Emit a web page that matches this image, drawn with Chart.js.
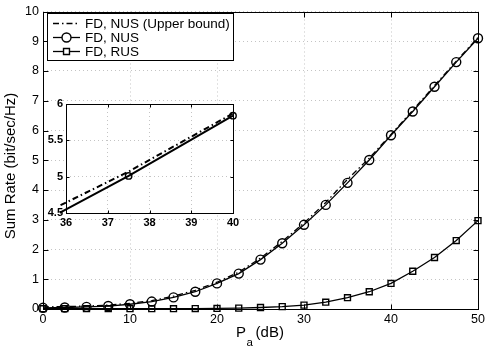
<!DOCTYPE html>
<html>
<head>
<meta charset="utf-8">
<script src="https://cdn.jsdelivr.net/npm/chart.js@4.4.0/dist/chart.umd.min.js"></script>
<style>
  body { margin: 0; background: #fff; }
  #wrap { position: relative; width: 491px; height: 349px; }
  #wrap canvas { position: absolute; left: 0; top: 0; }
</style>
</head>
<body>
<div id="wrap">
  <canvas id="main" width="491" height="349"></canvas>
  <canvas id="inset" width="491" height="349"></canvas>
</div>
<script>
// P_a in dB, sampled every 2.5 dB
const powerDb = [0, 2.5, 5, 7.5, 10, 12.5, 15, 17.5, 20, 22.5, 25, 27.5, 30, 32.5, 35, 37.5, 40, 42.5, 45, 47.5, 50];
// sum rate (bit/sec/Hz) per scheme
const nusUpper = [0.07, 0.08, 0.10, 0.13, 0.19, 0.28, 0.43, 0.63, 0.90, 1.24, 1.71, 2.27, 2.89, 3.58, 4.36, 5.07, 5.87, 6.68, 7.51, 8.33, 9.13];
const nus = [0.04, 0.05, 0.07, 0.10, 0.16, 0.25, 0.39, 0.58, 0.86, 1.19, 1.66, 2.21, 2.83, 3.50, 4.24, 5.01, 5.84, 6.64, 7.47, 8.30, 9.10];
const rus = [0.01, 0.01, 0.01, 0.01, 0.01, 0.01, 0.01, 0.015, 0.02, 0.03, 0.05, 0.08, 0.13, 0.23, 0.38, 0.58, 0.86, 1.27, 1.73, 2.30, 2.97];
const seriesLabels = ['FD, NUS (Upper bound)', 'FD, NUS', 'FD, RUS'];
const xTicksMain = [0, 10, 20, 30, 40, 50];
const yTicksMain = [0, 1, 2, 3, 4, 5, 6, 7, 8, 9, 10];
const xTicksInset = [36, 37, 38, 39, 40];
const yTicksInset = [4.5, 5, 5.5, 6];

const FONT = '"Liberation Sans", Arial, sans-serif';
const toPoints = vals => powerDb.map((p, i) => ({ x: p, y: vals[i] }));

function makeDatasets(lw, circleR, rectR) {
  return [
    { label: seriesLabels[0], data: toPoints(nusUpper), borderColor: '#000', borderWidth: lw,
      borderDash: [6, 3, 1.5, 3], pointRadius: 0, tension: 0 },
    { label: seriesLabels[1], data: toPoints(nus), borderColor: '#000', borderWidth: lw,
      pointStyle: 'circle', pointRadius: circleR, pointBorderWidth: 1.4,
      pointBackgroundColor: 'rgba(0,0,0,0)', pointBorderColor: '#000', tension: 0 },
    { label: seriesLabels[2], data: toPoints(rus), borderColor: '#000', borderWidth: lw,
      pointStyle: 'rect', pointRadius: rectR, pointBorderWidth: 1.4,
      pointBackgroundColor: 'rgba(0,0,0,0)', pointBorderColor: '#000', tension: 0 }
  ];
}

// box around the plot with inward ticks on all sides
const framePlugin = {
  id: 'frame',
  beforeDraw(chart, args, opts) {
    if (!opts.fill) return;
    const a = chart.chartArea;
    chart.ctx.save();
    chart.ctx.fillStyle = '#fff';
    chart.ctx.fillRect(a.left, a.top, a.right - a.left, a.bottom - a.top);
    chart.ctx.restore();
  },
  beforeDatasetsDraw(chart, args, opts) {
    const { ctx, chartArea: a, scales } = chart;
    const len = opts.tick || 4;
    ctx.save();
    ctx.strokeStyle = '#000';
    ctx.lineWidth = 1;
    const L = Math.round(a.left) + 0.5, R = Math.round(a.right) + 0.5;
    const T = Math.round(a.top) + 0.5, B = Math.round(a.bottom) + 0.5;
    ctx.strokeRect(L, T, R - L, B - T);
    ctx.beginPath();
    scales.x.ticks.forEach(t => {
      const px = Math.round(scales.x.getPixelForValue(t.value)) + 0.5;
      ctx.moveTo(px, B); ctx.lineTo(px, B - len);
      ctx.moveTo(px, T); ctx.lineTo(px, T + len);
    });
    scales.y.ticks.forEach(t => {
      const py = Math.round(scales.y.getPixelForValue(t.value)) + 0.5;
      ctx.moveTo(L, py); ctx.lineTo(L + len, py);
      ctx.moveTo(R, py); ctx.lineTo(R - len, py);
    });
    ctx.stroke();
    ctx.restore();
  }
};

// MATLAB style legend box + axis titles (subscript in P_a)
const decorPlugin = {
  id: 'decor',
  afterDraw(chart) {
    const ctx = chart.ctx;
    const a = chart.chartArea;
    ctx.save();
    // legend
    const bx = 47.5, by = 13.5, bw = 186, bh = 47;
    ctx.fillStyle = '#fff';
    ctx.fillRect(bx, by, bw, bh);
    ctx.strokeStyle = '#000';
    ctx.lineWidth = 1;
    ctx.strokeRect(bx, by, bw, bh);
    const rows = [23.5, 37.5, 51.5];
    chart.data.datasets.forEach((ds, i) => {
      const yy = rows[i];
      ctx.beginPath();
      ctx.setLineDash(ds.borderDash || []);
      ctx.lineWidth = 1.3;
      ctx.moveTo(53, yy); ctx.lineTo(80, yy);
      ctx.stroke();
      ctx.setLineDash([]);
      if (ds.pointRadius > 0) {
        ctx.fillStyle = '#fff';
        ctx.lineWidth = 1.4;
        Chart.helpers.drawPoint(ctx, { pointStyle: ds.pointStyle, radius: ds.pointRadius, borderWidth: 1.4 }, 66.5, yy);
      }
      ctx.fillStyle = '#000';
      ctx.font = '13.5px ' + FONT;
      ctx.textAlign = 'left';
      ctx.textBaseline = 'middle';
      ctx.fillText(ds.label, 85, yy + 0.5);
    });
    // x title: P_a (dB)
    ctx.fillStyle = '#000';
    ctx.textBaseline = 'alphabetic';
    ctx.textAlign = 'left';
    const big = '15px ' + FONT, small = '11.5px ' + FONT;
    ctx.font = big; const wP = ctx.measureText('P').width;
    ctx.font = small; const wA = ctx.measureText('a').width;
    ctx.font = big; const wR = ctx.measureText(' (dB)').width;
    let x0 = (a.left + a.right) / 2 - (wP + wA + wR) / 2;
    ctx.fillText('P', x0, 337);
    ctx.font = small; ctx.fillText('a', x0 + wP + 0.5, 346);
    ctx.font = big; ctx.fillText(' (dB)', x0 + wP + wA - 1, 337);
    // y title
    ctx.translate(11, 166);
    ctx.rotate(-Math.PI / 2);
    ctx.textAlign = 'center';
    ctx.textBaseline = 'middle';
    ctx.font = '15px ' + FONT;
    ctx.fillText('Sum Rate (bit/sec/Hz)', 0, 0);
    ctx.restore();
  }
};

const gridOpts = { color: '#c4c4c4', lineWidth: 1, drawTicks: false };
const plainLabel = v => String(v);

new Chart(document.getElementById('main'), {
  type: 'line',
  data: { datasets: makeDatasets(1.3, 4.5, 4.2).map(d => Object.assign(d, { clip: false })) },
  options: {
    responsive: false,
    animation: false,
    devicePixelRatio: 1,
    layout: { padding: { top: 9, right: 13, left: 0, bottom: 0 } },
    plugins: { legend: { display: false }, tooltip: { enabled: false }, frame: { tick: 5 } },
    scales: {
      x: {
        type: 'linear', min: 0, max: 50,
        afterBuildTicks: s => { s.ticks = xTicksMain.map(v => ({ value: v })); },
        afterFit: s => { s.height = 40; },
        grid: gridOpts,
        border: { display: false, dash: [1, 3] },
        ticks: { color: '#000', padding: 3, font: { family: FONT, size: 12.5 }, maxRotation: 0, callback: plainLabel }
      },
      y: {
        type: 'linear', min: 0, max: 10,
        afterBuildTicks: s => { s.ticks = yTicksMain.map(v => ({ value: v })); },
        afterFit: s => { s.width = 43; },
        grid: gridOpts,
        border: { display: false, dash: [1, 3] },
        ticks: { color: '#000', padding: 4, font: { family: FONT, size: 12.5 }, callback: plainLabel }
      }
    }
  },
  plugins: [framePlugin, decorPlugin]
});

// zoomed inset, 36-40 dB
new Chart(document.getElementById('inset'), {
  type: 'line',
  data: { datasets: makeDatasets(2, 3.2, 3).map(d => Object.assign(d, { clip: 6 })) },
  options: {
    responsive: false,
    animation: false,
    devicePixelRatio: 1,
    layout: { padding: { top: 104, right: 258, left: 0, bottom: 116 } },
    plugins: { legend: { display: false }, tooltip: { enabled: false }, frame: { tick: 3, fill: true } },
    scales: {
      x: {
        type: 'linear', min: 36, max: 40,
        afterBuildTicks: s => { s.ticks = xTicksInset.map(v => ({ value: v })); },
        afterFit: s => { s.height = 20; },
        grid: gridOpts,
        border: { display: false, dash: [1, 3] },
        ticks: { color: '#000', padding: 3, font: { family: FONT, size: 11, weight: 'bold' }, maxRotation: 0, callback: plainLabel }
      },
      y: {
        type: 'linear', min: 4.5, max: 6,
        afterBuildTicks: s => { s.ticks = yTicksInset.map(v => ({ value: v })); },
        afterFit: s => { s.width = 66; },
        grid: gridOpts,
        border: { display: false, dash: [1, 3] },
        ticks: { color: '#000', padding: 3, font: { family: FONT, size: 11, weight: 'bold' }, callback: plainLabel }
      }
    }
  },
  plugins: [framePlugin]
});
</script>
</body>
</html>
